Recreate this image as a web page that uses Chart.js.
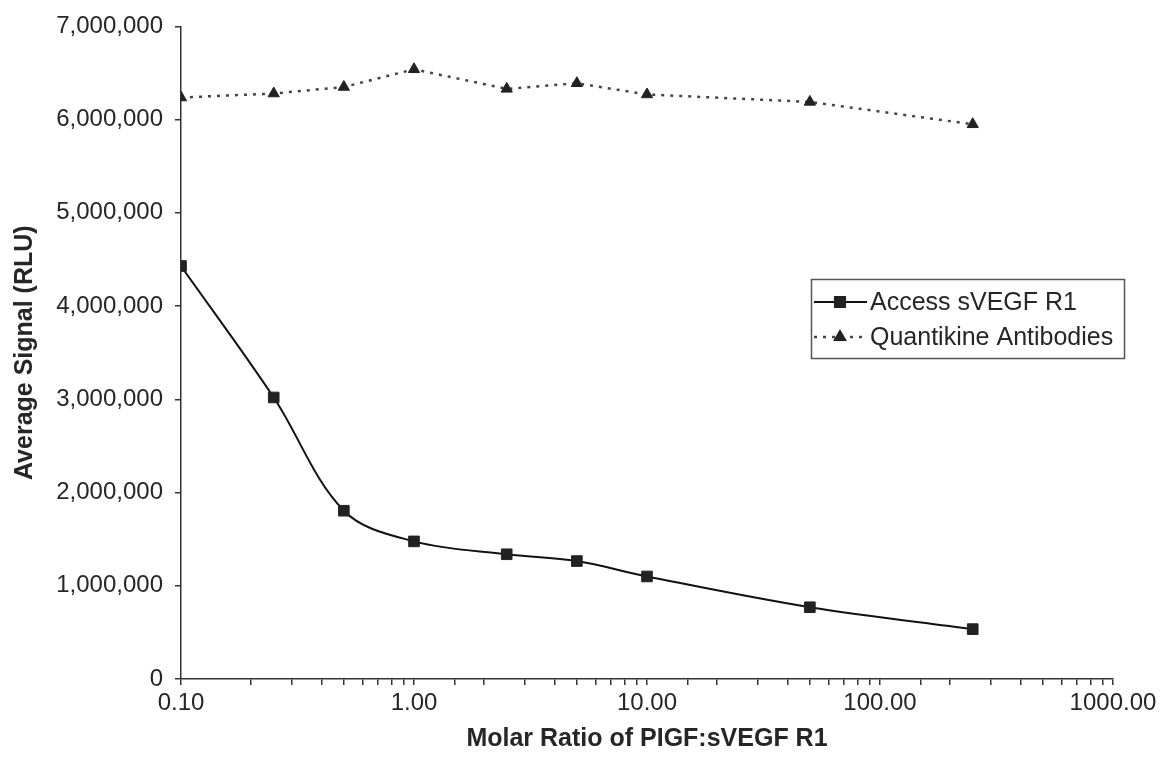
<!DOCTYPE html>
<html>
<head>
<meta charset="utf-8">
<script src="https://cdn.jsdelivr.net/npm/chart.js@4.4.1/dist/chart.umd.min.js"></script>
<style>
  html, body { margin: 0; padding: 0; background: #fff; }
  #wrap { width: 1173px; height: 758px; }
</style>
</head>
<body>
<div id="wrap"><canvas id="myChart" width="1173" height="758"></canvas></div>
<script>
// molar ratio PlGF : sVEGF R1 (x, log)
let ratios = [0.1, 0.25, 0.5, 1, 2.5, 5, 10, 50, 250];
// average signal, RLU
let accessSignal = [4430000, 3020000, 1805000, 1476000, 1338000, 1265000, 1100000, 770000, 535000];
let quantikineSignal = [6237000, 6280000, 6350000, 6540000, 6330000, 6390000, 6270000, 6190000, 5950000];
let seriesNames = ['Access sVEGF R1', 'Quantikine Antibodies'];
let yTitle = 'Average Signal (RLU)';
let xTitle = 'Molar Ratio of PIGF:sVEGF R1';

const ink = '#262626';
const fontName = '"Liberation Sans", Arial, sans-serif';

function toPoints(vals) {
  return ratios.map((r, i) => ({x: r, y: vals[i]}));
}

// boxed legend with line + marker samples
let boxLegend = {
  id: 'boxLegend',
  afterDraw: (chart) => {
    let ctx = chart.ctx;
    ctx.save();
    ctx.strokeStyle = '#555';
    ctx.lineWidth = 1.5;
    ctx.strokeRect(811.5, 279.5, 313, 79);
    let rows = [302, 337];
    chart.data.datasets.forEach((ds, i) => {
      let y = rows[i];
      ctx.save();
      ctx.strokeStyle = ds.borderColor;
      ctx.lineWidth = ds.borderWidth;
      ctx.setLineDash(ds.borderDash || []);
      ctx.beginPath();
      ctx.moveTo(814, y);
      ctx.lineTo(867, y);
      ctx.stroke();
      ctx.restore();
      ctx.fillStyle = ds.pointBackgroundColor;
      ctx.strokeStyle = ds.pointBorderColor;
      Chart.helpers.drawPoint(ctx, {
        pointStyle: ds.pointStyle, radius: ds.pointRadius, rotation: 0, borderWidth: 1
      }, 840, y);
      ctx.fillStyle = ink;
      ctx.font = '25px ' + fontName;
      ctx.textAlign = 'left';
      ctx.textBaseline = 'middle';
      ctx.fillText(ds.label, 870, y + 1);
    });
    ctx.restore();
  }
};

let ctx = document.getElementById('myChart').getContext('2d');
let chart = new Chart(ctx, {
  type: 'line',
  data: {
    datasets: [
      {
        label: seriesNames[0],
        data: toPoints(accessSignal),
        borderColor: '#111',
        borderWidth: 2,
        tension: 0.35,
        pointStyle: 'rect',
        pointRadius: 7.5,
        pointBackgroundColor: '#222',
        pointBorderColor: '#222',
        pointBorderWidth: 1
      },
      {
        label: seriesNames[1],
        data: toPoints(quantikineSignal),
        borderColor: '#444',
        borderWidth: 2.5,
        borderDash: [3, 6],
        tension: 0,
        pointStyle: 'triangle',
        pointRadius: 6.5,
        pointBackgroundColor: '#222',
        pointBorderColor: '#222',
        pointBorderWidth: 1
      }
    ]
  },
  options: {
    responsive: false,
    animation: false,
    events: [],
    layout: { padding: { left: 0, top: 21, right: 60, bottom: 0 } },
    plugins: {
      legend: { display: false },
      tooltip: { enabled: false }
    },
    scales: {
      x: {
        type: 'logarithmic',
        min: 0.1,
        max: 1000,
        afterFit: (s) => { s.height = 79; },
        border: { display: true, color: '#333', width: 1.5 },
        grid: { drawOnChartArea: false, drawTicks: true, tickLength: 6, color: '#333', lineWidth: 1.5 },
        title: {
          display: true,
          text: xTitle,
          color: ink,
          font: { family: fontName, size: 25, weight: 'bold' },
          padding: { top: 0, bottom: 4 }
        },
        ticks: {
          autoSkip: false,
          maxRotation: 0,
          padding: 4,
          color: ink,
          font: { family: fontName, size: 24 },
          callback: (v) => {
            let l = Math.log10(v);
            return Math.abs(l - Math.round(l)) < 1e-9 ? Number(v).toFixed(2) : '';
          }
        }
      },
      y: {
        min: 0,
        max: 7000000,
        afterFit: (s) => { s.width = 181; },
        border: { display: true, color: '#333', width: 1.5 },
        grid: { drawOnChartArea: false, drawTicks: true, tickLength: 6, color: '#333', lineWidth: 1.5 },
        title: {
          display: true,
          text: yTitle,
          color: ink,
          font: { family: fontName, size: 25, weight: 'bold' },
          padding: { top: 10, bottom: 0 }
        },
        ticks: {
          stepSize: 1000000,
          padding: 12,
          color: ink,
          font: { family: fontName, size: 24 },
          callback: (v) => Number(v).toLocaleString('en-US')
        }
      }
    }
  },
  plugins: [boxLegend]
});
</script>
</body>
</html>
